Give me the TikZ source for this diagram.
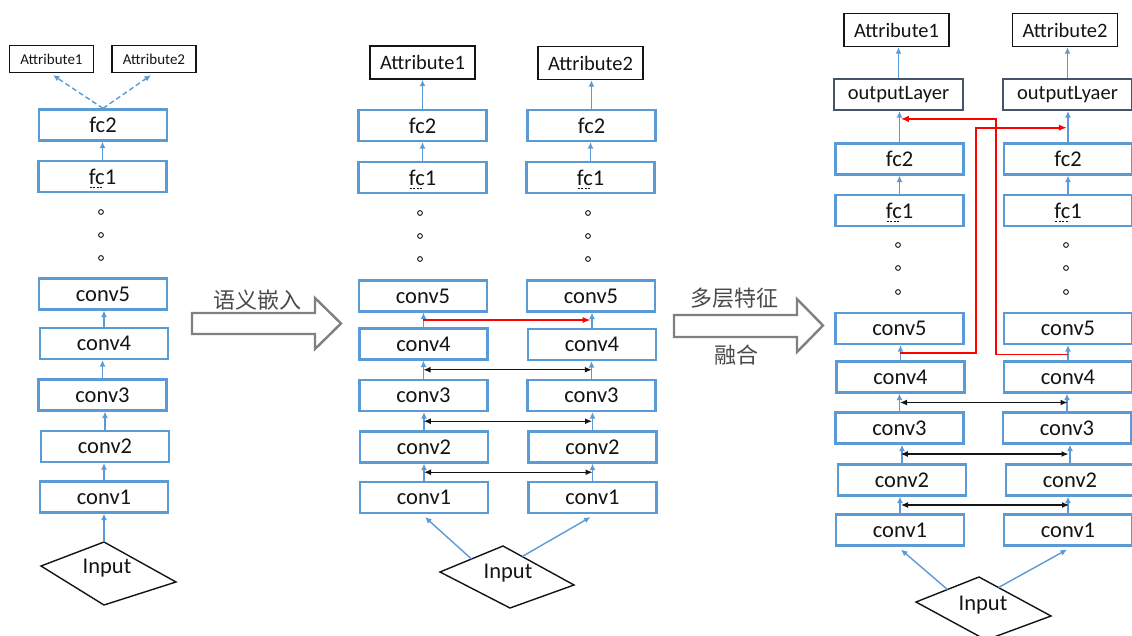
\documentclass[tikz,border=0pt]{standalone}
\usepackage{fontspec}
\setmainfont{Carlito}
\newfontfamily\cjk{Noto Sans CJK SC}
\usetikzlibrary{arrows.meta,calc}
\definecolor{boxblue}{HTML}{5B9BD5}
\definecolor{slate}{HTML}{44546A}
\definecolor{hollow}{HTML}{808080}
\definecolor{ink}{HTML}{141414}
\definecolor{note}{HTML}{4A4A4A}
\definecolor{link}{HTML}{FF0000}

\begin{document}
\begin{tikzpicture}[x=1pt,y=-1pt,
  layer/.style={draw=boxblue, line width=2.2pt, minimum width=128pt, minimum height=31pt,
    inner sep=0pt, text=ink, font=\fontsize{22.5}{22.5}\selectfont},
  attr/.style={draw=ink, line width=1.5pt, minimum width=105pt, minimum height=33pt,
    inner sep=0pt, text=ink, font=\fontsize{20.5}{20.5}\selectfont},
  attrsmall/.style={attr, line width=1.3pt, minimum width=84pt, minimum height=27pt, font=\fontsize{15}{15}\selectfont},
  outbox/.style={draw=slate, line width=2.2pt, minimum width=129pt, minimum height=31pt,
    inner sep=0pt, text=ink, font=\fontsize{20.5}{20.5}\selectfont},
  dotmark/.style={circle, draw=ink, line width=0.9pt, minimum size=4.8pt, inner sep=0pt},
  inlabel/.style={inner sep=0pt, text=ink, font=\fontsize{22.5}{22.5}\selectfont},
  diamondline/.style={draw=ink, line width=1.4pt, line join=miter},
  cnlabel/.style={inner sep=0pt, text=note, font=\cjk\fontsize{22}{22}\selectfont},
  bigarrow/.style={draw=hollow, line width=2.4pt, fill=white, line join=miter},
  flow/.style={draw=boxblue, line width=1.4pt, -{Latex[length=6.5pt,width=6pt]}},
  dashflow/.style={flow, dash pattern=on 5pt off 3pt},
  share/.style={draw=ink, line width=1.2pt, {Latex[length=7pt,width=6pt]}-{Latex[length=7pt,width=6pt]}},
  fuse/.style={draw=link, line width=1.8pt, line join=miter, -{Latex[length=8pt,width=6.5pt]}},
  squiggle/.style={draw=ink, line width=0.7pt, dash pattern=on 2pt off 1.5pt}
]
\useasboundingbox (0,0) rectangle (1132,636);
\clip (0,0) rectangle (1132,636);

% ---------------- single network ----------------
\node[attrsmall] (p1a1) at (51.5,59) {Attribute1};
\node[attrsmall] (p1a2) at (154,59) {Attribute2};
\node[layer] (p1f2) at (103,125) {fc2};
\node[layer] (p1f1) at (102.5,176.5) {fc1};
\node[dotmark] (p1d1) at (101,212) {};
\node[dotmark] (p1d2) at (101,235) {};
\node[dotmark] (p1d3) at (101,258) {};
\node[layer] (p1c5) at (103,294) {conv5};
\node[layer] (p1c4) at (104,343.5) {conv4};
\node[layer] (p1c3) at (102.5,395) {conv3};
\node[layer] (p1c2) at (105,446.5) {conv2};
\node[layer] (p1c1) at (104,497) {conv1};
\node[inlabel] (p1in) at (107,568) {Input};
\coordinate (p1L) at (41,566);
\coordinate (p1T) at (104,542);
\coordinate (p1R) at (176,582);
\coordinate (p1B) at (104,605);
\draw[diamondline] (p1L) -- (p1T) -- (p1R) -- (p1B) -- cycle;
\draw[squiggle] ($(p1f1.center)+(-13,10.5)$) -- ++(14,0);

\draw[flow] (p1T) -- (p1T |- p1c1.south);
\foreach \lo/\hi in {p1c1/p1c2, p1c2/p1c3, p1c3/p1c4, p1c4/p1c5, p1f1/p1f2}
  \draw[flow] (\lo.north) -- (\lo.north |- \hi.south);
\draw[dashflow] (p1f2.north) -- ($(p1a1.south)+(1.5,2)$);
\draw[dashflow] (p1f2.north) -- ($(p1a2.south)+(-3,2)$);

% ---------------- two branches with shared convs ----------------
\node[attr] (p2aL) at (422.5,62.5) {Attribute1};
\node[attr] (p2aR) at (590.5,63) {Attribute2};
\node[layer] (p2f2L) at (422.5,125.5) {fc2};
\node[layer] (p2f2R) at (591.5,125.5) {fc2};
\node[layer] (p2f1L) at (422.5,177.5) {fc1};
\node[layer] (p2f1R) at (590.5,177.5) {fc1};
\foreach \i/\y in {1/213, 2/236, 3/259} {
  \node[dotmark] (p2dL\i) at (420,\y) {};
  \node[dotmark] (p2dR\i) at (588,\y) {};
}
\node[layer] (p2c5L) at (423,296) {conv5};
\node[layer] (p2c5R) at (591,296) {conv5};
\node[layer] (p2c4L) at (423.5,344) {conv4};
\node[layer] (p2c4R) at (592,344.5) {conv4};
\node[layer] (p2c3L) at (423.5,395.5) {conv3};
\node[layer] (p2c3R) at (591.5,395.5) {conv3};
\node[layer] (p2c2L) at (424,447) {conv2};
\node[layer] (p2c2R) at (592.5,447) {conv2};
\node[layer] (p2c1L) at (424,497.5) {conv1};
\node[layer] (p2c1R) at (592.5,497.5) {conv1};
\node[inlabel] (p2in) at (508,573) {Input};
\coordinate (p2L) at (440,572);
\coordinate (p2T) at (503,546);
\coordinate (p2R) at (574,585);
\coordinate (p2B) at (510,608);
\draw[diamondline] (p2L) -- (p2T) -- (p2R) -- (p2B) -- cycle;
\draw[squiggle] ($(p2f1L.center)+(-13,10.5)$) -- ++(14,0);
\draw[squiggle] ($(p2f1R.center)+(-13,10.5)$) -- ++(14,0);

\draw[flow] ($(p2L)!.5!(p2T)$) -- ($(p2c1L.south)+(1,3)$);
\draw[flow] ($(p2T)!.27!(p2R)$) -- ($(p2c1R.south)+(-2,3)$);
\foreach \s in {L,R} {
  \foreach \lo/\hi in {c1/c2, c2/c3, c3/c4, c4/c5, f1/f2, f2/a}
    \draw[flow] (p2\lo\s.north) -- (p2\lo\s.north |- p2\hi\s.south);
}
\foreach \lo/\hi in {c1/c2, c2/c3, c3/c4} {
  \coordinate (p2m\lo L) at ($(p2\lo L.north)!.5!(p2\hi L.south)$);
  \coordinate (p2m\lo R) at ($(p2\lo R.north)!.5!(p2\hi R.south)$);
  \draw[share] (p2m\lo L) -- (p2m\lo L -| p2m\lo R);
}
\coordinate (p2rL) at ($(p2c4L.north)!.5!(p2c5L.south)$);
\coordinate (p2rR) at ($(p2c4R.north)!.5!(p2c5R.south)$);
\draw[fuse] (p2rL) -- ($(p2rL -| p2rR)+(-1,0)$);

% ---------------- two branches with fused features ----------------
\node[attr] (p3aL) at (896.5,30) {Attribute1};
\node[attr] (p3aR) at (1065,30) {Attribute2};
\node[outbox] (p3oL) at (898.5,94.5) {outputLayer};
\node[outbox] (p3oR) at (1067.5,94.5) {outputLyaer};
\node[layer] (p3f2L) at (899.5,159) {fc2};
\node[layer] (p3f2R) at (1068,159) {fc2};
\node[layer] (p3f1L) at (899.5,210.5) {fc1};
\node[layer] (p3f1R) at (1068,210.5) {fc1};
\foreach \i/\y in {1/245, 2/268, 3/292} {
  \node[dotmark] (p3dL\i) at (898,\y) {};
  \node[dotmark] (p3dR\i) at (1066,\y) {};
}
\node[layer] (p3c5L) at (899.5,328.5) {conv5};
\node[layer] (p3c5R) at (1068,328.5) {conv5};
\node[layer] (p3c4L) at (900.5,377) {conv4};
\node[layer] (p3c4R) at (1068,377) {conv4};
\node[layer] (p3c3L) at (899.5,428) {conv3};
\node[layer] (p3c3R) at (1067,428) {conv3};
\node[layer] (p3c2L) at (902,480) {conv2};
\node[layer] (p3c2R) at (1070,480) {conv2};
\node[layer] (p3c1L) at (900,530) {conv1};
\node[layer] (p3c1R) at (1068,530) {conv1};
\node[inlabel] (p3in) at (983,605) {Input};
\coordinate (p3L) at (916,602);
\coordinate (p3T) at (979,577);
\coordinate (p3R) at (1051,616);
\coordinate (p3B) at (986,640);
\draw[diamondline] (p3L) -- (p3T) -- (p3R) -- (p3B) -- cycle;
\draw[squiggle] ($(p3f1L.center)+(-13,10.5)$) -- ++(14,0);
\draw[squiggle] ($(p3f1R.center)+(-13,10.5)$) -- ++(14,0);

\draw[flow] ($(p3L)!.5!(p3T)$) -- ($(p3c1L.south)+(1,3)$);
\draw[flow] ($(p3T)!.27!(p3R)$) -- ($(p3c1R.south)+(-1,3)$);
\foreach \s in {L,R} {
  \foreach \lo/\hi in {c1/c2, c2/c3, c3/c4, c4/c5, f1/f2, f2/o, o/a}
    \draw[flow] (p3\lo\s.north) -- (p3\lo\s.north |- p3\hi\s.south);
}
\foreach \lo/\hi in {c1/c2, c2/c3, c3/c4} {
  \coordinate (p3m\lo L) at ($(p3\lo L.north)!.5!(p3\hi L.south)$);
  \coordinate (p3m\lo R) at ($(p3\lo R.north)!.5!(p3\hi R.south)$);
  \draw[share] (p3m\lo L) -- (p3m\lo L -| p3m\lo R);
}
% conv4 features of each branch routed to the other branch's output layer
\coordinate (p3xS) at ($(p3c4L.north)!.5!(p3c5L.south)$);
\coordinate (p3xE) at ($(p3f2R.north)!.47!(p3oR.south)$);
\coordinate (p3xK) at (976,0);
\draw[fuse] (p3xS) -- (p3xS -| p3xK) -- (p3xK |- p3xE) -- ($(p3xE)+(-1,0)$);
\coordinate (p3yS) at ($(p3c4R.north)!.38!(p3c5R.south)$);
\coordinate (p3yE) at ($(p3f2L.north)!.75!(p3oL.south)$);
\coordinate (p3yK) at (996,0);
\draw[fuse] (p3yS) -- (p3yS -| p3yK) -- (p3yK |- p3yE) -- ($(p3yE)+(2,0)$);

% ---------------- transition arrows ----------------
\draw[bigarrow] (192,313) -- (315,313) -- (315,298) -- (341,323.5) -- (315,349) -- (315,334) -- (192,334) -- cycle;
\node[cnlabel] (t1) at (257,300) {语义嵌入};
\draw[bigarrow] (674,315) -- (797,315) -- (797,299) -- (823,325.5) -- (797,352) -- (797,337) -- (674,337) -- cycle;
\node[cnlabel] (t2) at (734,298) {多层特征};
\node[cnlabel] (t3) at (736,355) {融合};
\end{tikzpicture}
\end{document}
